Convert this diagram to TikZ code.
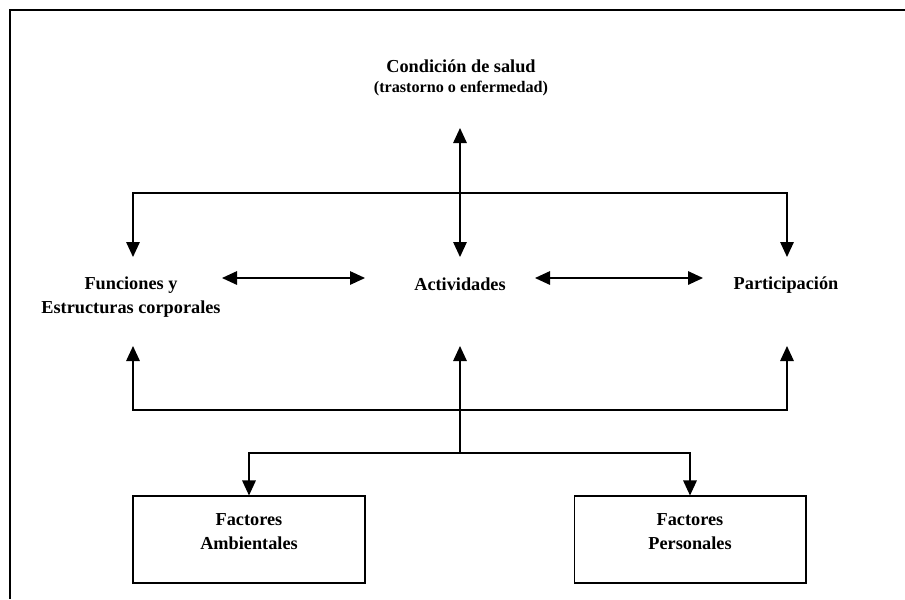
\documentclass[tikz,border=0pt]{standalone}
\usepackage{fontspec}
\setmainfont{Liberation Serif}
\usetikzlibrary{arrows.meta}

\tikzset{
  component/.style={font=\bfseries\fontsize{10.4}{13.7}\selectfont, align=center, inner sep=0pt},
  factorbox/.style={draw, line width=0.6pt, minimum width=4.64cm, minimum height=1.74cm,
    inner sep=0pt, align=center, font=\bfseries\fontsize{10.4}{13.2}\selectfont},
  arr/.style={-{Triangle[length=0.3cm,width=0.27cm]}, line width=0.85pt},
  dblarr/.style={{Triangle[length=0.3cm,width=0.27cm]}-{Triangle[length=0.3cm,width=0.27cm]}, line width=0.85pt}
}

\begin{document}
\begin{tikzpicture}[x=0.02cm,y=-0.02cm]
	\useasboundingbox (0,0) rectangle (905,599);
	% frame, only top and left edges show
	\draw[line width=1.15pt] (905,10)--(10,10)--(10,599);
	% health condition
	\node[component] at (461,78) (salud) {Condición de salud\\[-2pt]{\fontsize{9.2}{11}\selectfont(trastorno o enfermedad)}};
	% components
	\node[component] at (131,297) (func) {Funciones y\\Estructuras corporales};
	\node[component] at (460,284) (act) {Actividades};
	\node[component] at (786,285) (part) {Participación};
	% contextual factors
	\node[factorbox] at (249,539.5) (amb) {Factores\\Ambientales\\[-4pt]};
	\node[factorbox] at (690,539.5) (pers) {Factores\\Personales\\[-4pt]};
	% arrow ends
	\coordinate (salud_s) at (460,128);
	\coordinate (top_bar) at (460,193);
	\coordinate (func_n) at (133,257);
	\coordinate (act_n) at (460,257);
	\coordinate (part_n) at (787,257);
	\coordinate (func_e) at (222,278);
	\coordinate (act_w) at (365,278);
	\coordinate (act_e) at (535,278);
	\coordinate (part_w) at (703,278);
	\coordinate (func_s) at (133,346);
	\coordinate (act_s) at (460,346);
	\coordinate (part_s) at (787,346);
	\coordinate (bot_bar) at (460,410);
	\coordinate (fac_bar) at (460,453);
	% health condition <-> components
	\draw[dblarr] (salud_s)--(act_n);
	\draw[arr] (top_bar) -| (func_n);
	\draw[arr] (top_bar) -| (part_n);
	% between components
	\draw[dblarr] (func_e)--(act_w);
	\draw[dblarr] (act_e)--(part_w);
	% factors -> components
	\draw[arr] (fac_bar)--(act_s);
	\draw[arr] (bot_bar) -| (func_s);
	\draw[arr] (bot_bar) -| (part_s);
	\draw[arr] (fac_bar) -| (amb.north);
	\draw[arr] (fac_bar) -| (pers.north);
\end{tikzpicture}
\end{document}
